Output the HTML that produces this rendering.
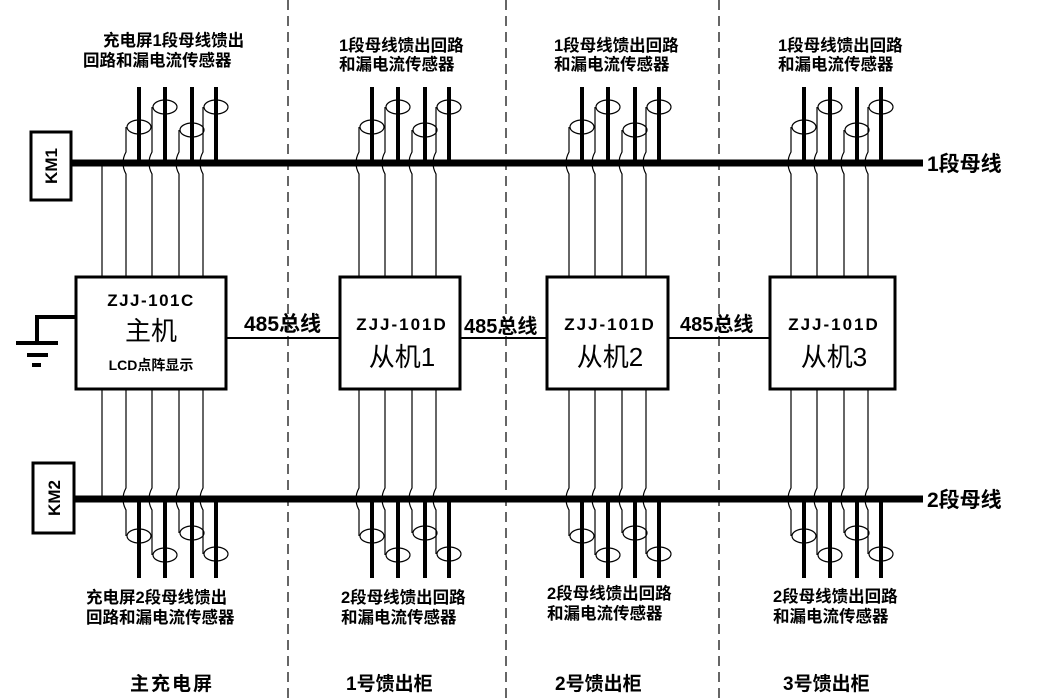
<!DOCTYPE html>
<html><head><meta charset="utf-8"><style>
html,body{margin:0;padding:0;background:#fff;}
svg{display:block;}
text{font-family:"Liberation Sans","Noto Sans CJK SC",sans-serif;fill:#000;}
.l{font-size:16.5px;font-weight:bold;}
</style></head><body>
<svg width="1040" height="700" viewBox="0 0 1040 700" xmlns="http://www.w3.org/2000/svg">
<defs>
<g id="top">
  <g stroke="#000" stroke-width="4"><line x1="0" y1="87" x2="0" y2="163"/><line x1="26" y1="87" x2="26" y2="163"/><line x1="53" y1="87" x2="53" y2="163"/><line x1="77" y1="87" x2="77" y2="163"/></g>
  <g fill="none" stroke="#000" stroke-width="1.2">
    <ellipse cx="0" cy="127" rx="12" ry="7"/><ellipse cx="26" cy="107" rx="12" ry="7"/><ellipse cx="53" cy="130" rx="12" ry="7"/><ellipse cx="77" cy="107" rx="12" ry="7"/>
    <path d="M-13 277V174Q-19 163 -13 152V127"/>
    <path d="M13 277V174Q7 163 13 152V107"/>
    <path d="M40 277V174Q34 163 40 152V130"/>
    <path d="M64 277V174Q58 163 64 152V107"/>
  </g>
</g>
<g id="bot">
  <g stroke="#000" stroke-width="4"><line x1="0" y1="499" x2="0" y2="578"/><line x1="26" y1="499" x2="26" y2="578"/><line x1="53" y1="499" x2="53" y2="578"/><line x1="77" y1="499" x2="77" y2="578"/></g>
  <g fill="none" stroke="#000" stroke-width="1.2">
    <ellipse cx="0" cy="536" rx="12" ry="7"/><ellipse cx="26" cy="555" rx="12" ry="7"/><ellipse cx="53" cy="533" rx="12" ry="7"/><ellipse cx="77" cy="554" rx="12" ry="7"/>
    <path d="M-13 389V488Q-19 499 -13 510V536"/>
    <path d="M13 389V488Q7 499 13 510V555"/>
    <path d="M40 389V488Q34 499 40 510V533"/>
    <path d="M64 389V488Q58 499 64 510V554"/>
  </g>
</g>
</defs>

<g stroke="#000" stroke-width="1.2" stroke-dasharray="10,6">
<line x1="288" y1="0" x2="288" y2="700"/><line x1="506" y1="0" x2="506" y2="700"/><line x1="719" y1="0" x2="719" y2="700"/>
</g>

<use href="#top" x="139"/><use href="#top" x="372"/><use href="#top" x="582"/><use href="#top" x="804"/>
<use href="#bot" x="139"/><use href="#bot" x="372"/><use href="#bot" x="582"/><use href="#bot" x="804"/>
<g stroke="#000" stroke-width="1.2"><line x1="102" y1="163" x2="102" y2="277"/><line x1="102" y1="389" x2="102" y2="499"/></g>

<line x1="71" y1="163" x2="923" y2="163" stroke="#000" stroke-width="7"/>
<line x1="74" y1="499" x2="923" y2="499" stroke="#000" stroke-width="7"/>
<text x="927" y="171" font-size="21" font-weight="bold">1段母线</text>
<text x="927" y="507" font-size="21" font-weight="bold">2段母线</text>

<rect x="31" y="132" width="40" height="68" fill="#fff" stroke="#000" stroke-width="3"/>
<text transform="translate(57,166) rotate(-90)" text-anchor="middle" font-size="17" font-weight="bold">KM1</text>
<rect x="33" y="463" width="41" height="70" fill="#fff" stroke="#000" stroke-width="3"/>
<text transform="translate(60,498) rotate(-90)" text-anchor="middle" font-size="17" font-weight="bold">KM2</text>

<path d="M76 317H37V343" fill="none" stroke="#000" stroke-width="4"/>
<line x1="16" y1="343" x2="58" y2="343" stroke="#000" stroke-width="4"/>
<line x1="27" y1="355" x2="48" y2="355" stroke="#000" stroke-width="4"/>
<line x1="32" y1="365" x2="41" y2="365" stroke="#000" stroke-width="4"/>

<g fill="#fff" stroke="#000" stroke-width="3">
<rect x="76" y="277" width="150" height="112"/>
<rect x="340" y="277" width="120" height="112"/>
<rect x="547" y="277" width="121" height="112"/>
<rect x="770" y="277" width="125" height="112"/>
</g>
<g stroke="#000" stroke-width="2"><line x1="226" y1="338" x2="340" y2="338"/><line x1="460" y1="338" x2="547" y2="338"/><line x1="668" y1="338" x2="770" y2="338"/></g>
<text x="244" y="331" font-size="21" font-weight="bold">485总线</text>
<text x="464" y="333" font-size="20" font-weight="bold">485总线</text>
<text x="680" y="331" font-size="20" font-weight="bold">485总线</text>

<text x="151" y="306" text-anchor="middle" font-size="17" font-weight="bold" letter-spacing="1.5">ZJJ-101C</text>
<text x="151" y="340" text-anchor="middle" font-size="26">主机</text>
<text x="151" y="370" text-anchor="middle" font-size="14" font-weight="bold">LCD点阵显示</text>
<text x="402" y="330" text-anchor="middle" font-size="17" font-weight="bold" letter-spacing="2">ZJJ-101D</text>
<text x="402" y="366" text-anchor="middle" font-size="26">从机1</text>
<text x="610" y="330" text-anchor="middle" font-size="17" font-weight="bold" letter-spacing="2">ZJJ-101D</text>
<text x="610" y="366" text-anchor="middle" font-size="26">从机2</text>
<text x="834" y="330" text-anchor="middle" font-size="17" font-weight="bold" letter-spacing="2">ZJJ-101D</text>
<text x="834" y="366" text-anchor="middle" font-size="26">从机3</text>

<text class="l" x="103" y="46">充电屏1段母线馈出</text>
<text class="l" x="83" y="66">回路和漏电流传感器</text>
<text class="l" x="339" y="51">1段母线馈出回路</text>
<text class="l" x="339" y="70">和漏电流传感器</text>
<text class="l" x="554" y="51">1段母线馈出回路</text>
<text class="l" x="554" y="70">和漏电流传感器</text>
<text class="l" x="778" y="51">1段母线馈出回路</text>
<text class="l" x="778" y="70">和漏电流传感器</text>

<text class="l" x="86" y="603">充电屏2段母线馈出</text>
<text class="l" x="86" y="623">回路和漏电流传感器</text>
<text class="l" x="341" y="603">2段母线馈出回路</text>
<text class="l" x="341" y="623">和漏电流传感器</text>
<text class="l" x="547" y="599">2段母线馈出回路</text>
<text class="l" x="547" y="619">和漏电流传感器</text>
<text class="l" x="773" y="602">2段母线馈出回路</text>
<text class="l" x="773" y="622">和漏电流传感器</text>

<text x="130" y="690" font-size="19" font-weight="bold" letter-spacing="2">主充电屏</text>
<text x="346" y="690" font-size="19" font-weight="bold">1号馈出柜</text>
<text x="555" y="690" font-size="19" font-weight="bold">2号馈出柜</text>
<text x="783" y="690" font-size="19" font-weight="bold">3号馈出柜</text>
</svg>
</body></html>
